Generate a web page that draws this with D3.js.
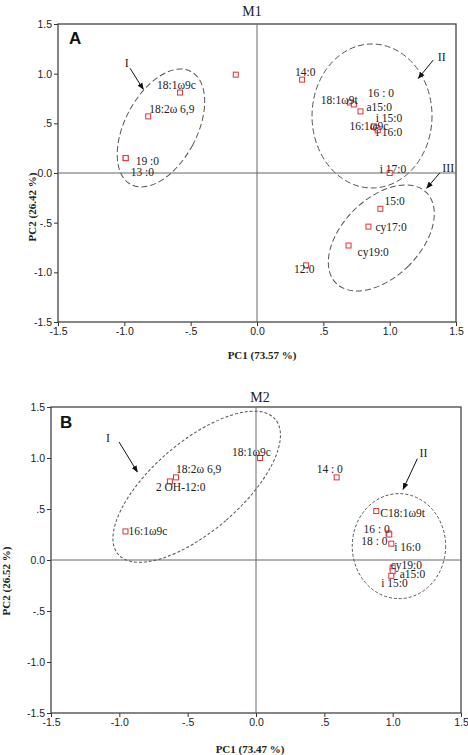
<!DOCTYPE html>
<html><head><meta charset="utf-8">
<script src="https://cdn.jsdelivr.net/npm/d3@7"></script>
<style>body{margin:0;background:#fff}svg{display:block}</style>
</head><body>
<svg id="c" width="468" height="755"></svg>
<script>
// ---------- data ----------
const tickValues = [-1.5, -1.0, -0.5, 0.0, 0.5, 1.0, 1.5];
const tickLabels = ["-1.5", "-1.0", "-.5", "0.0", ".5", "1.0", "1.5"];

const m1Labels = ["18:1ω9c","18:2ω 6,9","19 :0","13 :0","","14:0","18:1ω9t","16 : 0","a15:0","i 15:0","16:1ω9c","i 16:0","i 17:0","15:0","cy17:0","cy19:0","12:0"];
const m1PC1 = [-0.58,-0.82,-0.99,-0.99,-0.16,0.34,0.70,0.73,0.78,0.88,0.90,0.91,1.00,0.93,0.84,0.69,0.37];
const m1PC2 = [0.81,0.57,0.15,0.15,0.99,0.94,0.71,0.69,0.62,0.47,0.455,0.43,0.00,-0.36,-0.54,-0.73,-0.93];
const m1LabelDx = [-23,1,10,5,0,-7,-29,14,6,2,-27,-2,-10,4,7,9,-12];
const m1LabelDy = [-8,-7,3,14,0,-8,-2,-11,-4,-8,-2,2,-4,-8,0,6,4];

const m2Labels = ["18:1ω9c","18:2ω 6,9","2 OH-12:0","16:1ω9c","14 : 0","C18:1ω9t","16 : 0","18 : 0","i 16:0","cy19:0","a15:0","i 15:0"];
const m2PC1 = [0.03,-0.585,-0.63,-0.955,0.59,0.88,0.97,0.975,0.99,1.0,1.0,0.99];
const m2PC2 = [1.0,0.81,0.77,0.28,0.81,0.48,0.26,0.25,0.16,-0.075,-0.11,-0.155];
const m2LabelDx = [-28,0,-14,3,-20,4,-25,-28,3,-2,7,-10];
const m2LabelDy = [-6,-8,6,0,-8,2,-4,6,3,-3,3,7];

// group ellipses (centre in data units, radii in px, rotation deg)
const m1Groups = [
  {cx:-0.724, cy:0.453, rx:36, ry:64, rot:28},
  {cx:0.867, cy:0.574, rx:60, ry:72, rot:0},
  {cx:0.937, cy:-0.654, rx:39, ry:64, rot:45}
];
const m2Groups = [
  {cx:-0.434, cy:0.718, rx:44.6, ry:103.6, rot:49.3},
  {cx:1.046, cy:0.136, rx:46.7, ry:52.5, rot:0}
];
const m1Arrows = [
  {name:"I", lx:-0.982, ly:1.104, x1:-0.957, y1:1.054, x2:-0.857, y2:0.843},
  {name:"II", lx:1.392, ly:1.171, x1:1.329, y1:1.138, x2:1.216, y2:0.953},
  {name:"III", lx:1.442, ly:0.053, x1:1.379, y1:0.003, x2:1.279, y2:-0.154}
];
const m2Arrows = [
  {name:"I", lx:-1.083, ly:1.196, x1:-1.002, y1:1.157, x2:-0.868, y2:0.863},
  {name:"II", lx:1.225, ly:1.049, x1:1.181, y1:0.994, x2:1.076, y2:0.693}
];

// ---------- drawing ----------
const svg = d3.select("#c");
const defs = svg.append("defs");
defs.append("marker").attr("id","ah").attr("viewBox","0 0 10 10").attr("refX",9).attr("refY",5)
  .attr("markerWidth",7).attr("markerHeight",7).attr("orient","auto")
  .append("path").attr("d","M0,1 L10,5 L0,9 Z").attr("fill","#111");

const serif = "'Liberation Serif','Times New Roman',serif";
const sans = "'Liberation Sans',Arial,sans-serif";

function panel(cfg){
  const g = svg.append("g");
  const x = d3.scaleLinear().domain([-1.5,1.5]).range([cfg.left, cfg.right]);
  const y = d3.scaleLinear().domain([-1.5,1.5]).range([cfg.bottom, cfg.top]);
  const fmt = v => tickLabels[tickValues.indexOf(v)];

  // axes
  const xa = g.append("g").attr("transform",`translate(0,${cfg.bottom})`)
    .call(d3.axisBottom(x).tickValues(tickValues).tickFormat(fmt).tickSizeInner(4).tickSizeOuter(0).tickPadding(2));
  const ya = g.append("g").attr("transform",`translate(${cfg.left},0)`)
    .call(d3.axisLeft(y).tickValues(tickValues).tickFormat(fmt).tickSizeInner(4).tickSizeOuter(0).tickPadding(2));
  [xa,ya].forEach(a=>{
    a.selectAll("path").remove();
    a.selectAll("line").attr("stroke","#333");
    a.selectAll("text").attr("font-family",sans).attr("font-size","10.5px").attr("fill","#222");
  });
  // frame
  g.append("rect").attr("x",cfg.left).attr("y",cfg.top).attr("width",cfg.right-cfg.left)
    .attr("height",cfg.bottom-cfg.top).attr("fill","none").attr("stroke","#444").attr("stroke-width",1.3);
  // zero lines
  g.append("line").attr("x1",x(0)).attr("x2",x(0)).attr("y1",cfg.top).attr("y2",cfg.bottom).attr("stroke","#666").attr("stroke-width",1);
  g.append("line").attr("x1",cfg.left).attr("x2",cfg.right).attr("y1",y(0)).attr("y2",y(0)).attr("stroke","#666").attr("stroke-width",1);

  // titles
  g.append("text").attr("x",cfg.titleX).attr("y",cfg.titleY).attr("text-anchor","middle")
    .attr("font-family",serif).attr("font-size","14px").attr("fill","#222").text(cfg.title);
  g.append("text").attr("x",cfg.letterX).attr("y",cfg.letterY)
    .attr("font-family",sans).attr("font-weight","bold").attr("font-size","17px").attr("fill","#111").text(cfg.letter);
  g.append("text").attr("x",cfg.xtX).attr("y",cfg.xtY).attr("text-anchor","middle")
    .attr("font-family",serif).attr("font-weight","bold").attr("font-size","11px").attr("fill","#222").text(cfg.xTitle);
  g.append("text").attr("transform",`translate(${cfg.ytX},${cfg.ytY}) rotate(-90)`).attr("text-anchor","middle")
    .attr("dominant-baseline","central")
    .attr("font-family",serif).attr("font-weight","bold").attr("font-size","11px").attr("fill","#222").text(cfg.yTitle);

  // group ellipses
  g.selectAll("ellipse.grp").data(cfg.groups).join("ellipse").attr("class","grp")
    .attr("cx",0).attr("cy",0).attr("rx",d=>d.rx).attr("ry",d=>d.ry)
    .attr("transform",d=>`translate(${x(d.cx)},${y(d.cy)}) rotate(${d.rot})`)
    .attr("fill","none").attr("stroke","#555").attr("stroke-width",1).attr("stroke-dasharray",cfg.dash);

  // arrows
  g.selectAll("line.arr").data(cfg.arrows).join("line").attr("class","arr")
    .attr("x1",d=>x(d.x1)).attr("y1",d=>y(d.y1)).attr("x2",d=>x(d.x2)).attr("y2",d=>y(d.y2))
    .attr("stroke","#111").attr("stroke-width",1).attr("marker-end","url(#ah)");
  g.selectAll("text.arrl").data(cfg.arrows).join("text").attr("class","arrl")
    .attr("x",d=>x(d.lx)).attr("y",d=>y(d.ly)).attr("text-anchor","middle").attr("dominant-baseline","central")
    .attr("font-family",serif).attr("font-size","12px").attr("fill","#222").text(d=>d.name);

  // points
  const idx = d3.range(cfg.labels.length);
  g.selectAll("rect.pt").data(idx).join("rect").attr("class","pt")
    .attr("x",i=>x(cfg.pc1[i])-2.5).attr("y",i=>y(cfg.pc2[i])-2.5).attr("width",5).attr("height",5)
    .attr("fill","#fff").attr("stroke","#e0303a").attr("stroke-width",1);
  g.selectAll("text.lbl").data(idx).join("text").attr("class","lbl")
    .attr("x",i=>x(cfg.pc1[i])+cfg.dx[i]).attr("y",i=>y(cfg.pc2[i])+cfg.dy[i])
    .attr("dominant-baseline","central")
    .attr("font-family",serif).attr("font-size","11.5px").attr("fill","#222").text(i=>cfg.labels[i]);
}

panel({left:58, right:456, top:24, bottom:322, title:"M1", titleX:252, titleY:16,
  letter:"A", letterX:69, letterY:44, xTitle:"PC1 (73.57 %)", xtX:262, xtY:359,
  yTitle:"PC2 (26.42 %)", ytX:32, ytY:207,
  groups:m1Groups, arrows:m1Arrows, dash:"6,3",
  labels:m1Labels, pc1:m1PC1, pc2:m1PC2, dx:m1LabelDx, dy:m1LabelDy});

panel({left:51, right:461, top:407, bottom:713, title:"M2", titleX:260, titleY:402,
  letter:"B", letterX:60, letterY:428, xTitle:"PC1 (73.47 %)", xtX:250, xtY:753,
  yTitle:"PC2 (26.52 %)", ytX:6, ytY:581,
  groups:m2Groups, arrows:m2Arrows, dash:"3,2",
  labels:m2Labels, pc1:m2PC1, pc2:m2PC2, dx:m2LabelDx, dy:m2LabelDy});
</script>
</body></html>
